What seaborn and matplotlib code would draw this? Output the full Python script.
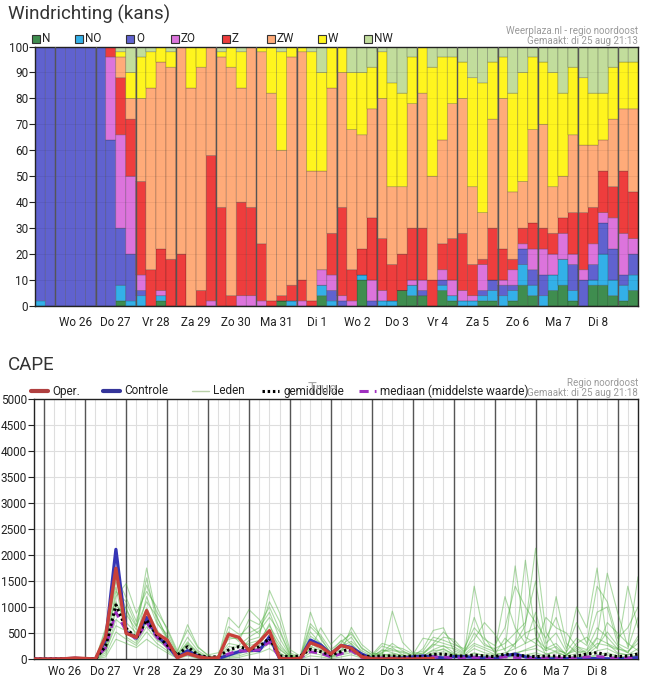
import numpy as np
import pandas as pd
import matplotlib
matplotlib.use("Agg")
import matplotlib.pyplot as plt
from matplotlib.lines import Line2D
from matplotlib.patches import Rectangle
import seaborn as sns

sns.set_style("white")
plt.rcParams['font.family'] = ['Roboto', 'DejaVu Sans']

W_PX, H_PX = 651, 681

# ---- Windrichting (kans), 60 stappen van 6 uur ----
richtingen = ['N', 'NO', 'O', 'ZO', 'Z', 'ZW', 'W', 'NW']
kleuren = ['#3f8d4f', '#33b0e8', '#6062cf', '#dc74dc', '#ee3d3d', '#ffab79', '#fff51e', '#c2dd9c']

N = [0,0,0,0,0,0,0,0,2,0, 0,0,2,0,0,0,0,0,0,0, 0,0,0,0,2,0,0,0,4,0,
     0,0,10,0,0,0,6,4,4,0, 6,2,0,0,2,2,0,2,8,4, 0,6,8,2,0,8,8,4,2,6]
NO = [2,0,0,0,0,0,0,0,6,2, 4,0,2,0,0,0,0,0,0,0, 0,0,0,0,0,2,0,0,4,2,
      0,0,2,0,2,2,0,4,0,0, 2,2,2,2,2,4,4,4,8,4, 4,6,10,4,0,2,12,6,6,6]
O = [98,100,100,100,100,100,100,64,22,18, 2,0,0,0,0,0,0,0,0,0, 0,0,0,0,0,0,0,0,0,4,
     2,0,0,2,0,0,0,0,2,0, 2,0,0,0,2,4,4,2,6,6, 8,0,0,10,10,6,12,12,4,8]
ZO = [0,0,0,0,0,0,0,32,36,30, 6,0,2,0,0,0,0,2,0,0, 4,4,2,0,0,0,2,0,6,6,
      2,2,0,8,4,0,0,2,4,0, 4,6,4,2,10,0,2,6,2,8, 10,8,10,4,4,8,4,12,16,6]
Z = [0,0,0,0,0,0,0,4,22,22, 36,14,16,18,20,0,6,56,38,4, 36,34,22,2,2,6,8,2,0,16,
     34,12,10,24,20,14,14,20,20,10, 10,16,22,12,2,20,12,4,6,10, 8,8,6,16,22,14,16,12,24,18]
ZW = [0,0,0,0,0,0,0,0,8,8, 32,70,72,74,80,84,86,42,58,88, 44,62,74,80,56,88,88,50,38,56,
      52,54,44,42,54,30,26,48,52,40, 40,52,52,30,18,42,58,26,18,36, 40,18,16,30,26,24,12,26,24,32]
W = [0,0,0,0,0,0,0,0,2,10, 16,14,6,6,0,16,8,0,2,8, 14,0,2,18,38,4,2,46,38,16,
     10,22,24,16,18,40,36,18,18,42, 32,18,14,42,50,22,16,38,42,28, 24,44,32,26,26,20,18,20,18,18]
NW = [0,0,0,0,0,0,0,0,2,10, 4,2,0,2,0,0,0,0,2,0, 2,0,0,0,2,0,0,2,10,0,
      0,10,10,8,2,14,18,4,0,8, 4,4,6,12,14,6,4,18,10,4, 6,10,18,8,12,18,18,8,6,6]

dagen = ["Wo 26", "Do 27", "Vr 28", "Za 29", "Zo 30", "Ma 31", "Di 1",
         "Wo 2", "Do 3", "Vr 4", "Za 5", "Zo 6", "Ma 7", "Di 8"]

# ---- CAPE, 60 stappen van 6 uur ----
oper = [0,0,0,5,20,10,0,430,1745,494, 417,930,494,365,25,110,45,13,25,475,
        417,160,333,545,10,0,10,314,237,96, 260,205,45,5,0,5,0,0,5,10] + [np.nan] * 20
controle = [0,0,0,5,15,5,0,365,2109,525, 400,800,440,270,25,160,60,10,10,75,
            140,170,160,430,5,0,5,365,270,96, 260,225,96,10,5,10,20,40,58,40,
            20,45,45,30,20,10,60,96,40,10, 5,5,10,5,5,10,5,5,10,30]
gemiddelde = [0,0,0,3,10,5,0,250,1040,590, 400,750,460,270,75,237,77,32,45,173,
              237,186,237,400,58,45,58,186,141,77, 141,205,58,45,58,58,45,58,45,90,
              96,58,58,77,58,45,96,77,58,45, 58,58,45,58,96,122,77,45,58,96]
mediaan = [0,0,0,0,5,0,0,220,900,540, 380,700,420,240,40,100,40,10,20,100,
           160,150,180,330,20,10,20,140,110,40, 100,160,30,15,25,20,15,20,15,40,
           40,20,20,30,20,15,40,30,20,15, 20,20,15,20,40,50,30,15,20,40]
leden = [
    [0,0,0,0,0,0,0,420,1500,950, 620,1750,800,420,60,330,120,20,30,420, 380,260,300,680,120,10,40,520,300,90,
     180,300,90,40,120,220,80,30,60,180, 260,120,60,1400,420,120,80,300,650,2130, 520,200,90,160,80,240,520,260,120,380],
    [0,0,0,0,0,0,0,260,1200,1450, 880,1300,1000,560,120,660,240,60,40,800, 600,950,760,420,200,30,20,300,180,60,
     120,610,280,120,60,920,320,120,100,250, 420,380,160,380,700,480,160,1790,420,300, 160,1200,300,120,160,420,1650,900,240,1580],
    [0,0,0,0,0,0,0,120,760,600, 430,820,460,300,40,240,60,10,20,180, 140,360,420,1320,880,180,60,180,600,280,
     480,280,60,30,180,120,60,40,200,550, 600,160,80,260,180,90,400,220,1900,450, 80,160,120,1000,600,1750,300,120,80,120],
    [0,0,0,0,30,20,0,540,1380,420, 300,620,360,240,20,120,30,0,10,60, 90,180,260,560,240,60,20,900,380,120,
     360,180,40,20,60,80,30,20,40,120, 200,80,40,120,60,40,60,100,180,260, 800,600,500,240,120,300,260,180,1400,600],
    [0,0,0,0,0,0,0,180,1020,860, 560,1560,720,380,80,420,160,40,60,620, 480,500,600,900,400,60,10,360,220,60,
     260,420,120,60,250,180,140,80,400,360, 300,240,120,800,300,160,1200,600,300,900, 220,140,60,300,420,200,700,500,300,160],
    [0,0,0,0,0,0,0,80,520,380, 260,520,300,160,20,80,20,0,0,40, 60,120,160,300,100,20,0,120,80,30,
     80,120,40,20,40,60,40,20,30,80, 100,60,30,60,40,30,40,60,80,120, 60,40,30,60,40,80,120,60,40,80],
    [0,0,0,0,0,0,0,320,1600,1180, 720,1420,900,600,160,560,220,80,120,380, 420,640,480,1100,720,120,40,680,460,180,
     340,480,220,80,300,240,200,100,150,420, 360,280,200,600,380,260,600,1400,1000,700, 400,800,200,700,300,1400,1100,400,600,1000],
    [0,0,0,0,0,0,0,40,380,300, 220,380,240,120,10,60,10,0,0,20, 30,80,120,200,60,10,0,60,40,10,
     40,80,20,10,20,40,20,10,20,40, 60,30,20,40,30,20,20,40,60,80, 40,30,20,40,30,60,80,40,30,60],
    [0,0,0,0,0,0,0,600,1100,700, 500,980,560,320,40,180,80,20,20,240, 220,300,360,640,300,40,20,240,160,40,
     160,220,80,40,80,100,80,40,60,160, 180,100,60,200,120,80,120,200,300,400, 200,300,80,200,100,400,300,200,150,300],
    [0,0,0,0,0,0,0,220,900,1000, 400,1200,680,480,100,300,120,30,40,300, 260,420,540,800,520,80,30,440,300,120,
     240,340,160,60,160,160,120,60,120,280, 240,200,100,500,260,200,300,500,700,1500, 300,500,140,400,260,900,1000,300,200,800],
    [0,0,0,0,0,0,0,300,1300,1100, 640,1100,820,400,60,280,90,10,30,520, 340,760,660,1000,560,90,20,620,420,100,
     300,520,200,90,120,300,160,60,90,300, 520,320,140,300,220,140,200,300,500,600, 160,240,80,240,180,600,420,200,120,440],
    [0,0,0,0,0,0,0,160,640,540, 340,700,400,200,30,150,40,10,10,100, 120,220,200,420,180,30,10,200,120,40,
     100,160,60,30,100,60,50,30,40,100, 140,80,40,100,80,60,80,120,160,200, 100,120,60,100,60,160,200,100,80,200],
]

def fx(x):
    return x / W_PX

def fy(y):
    return 1 - y / H_PX

fig = plt.figure(figsize=(W_PX / 100, H_PX / 100), dpi=100)
fig.patch.set_facecolor('white')

# ================= Windrichting =================
ax1 = fig.add_axes([fx(35.3), fy(306), fx(638.3) - fx(35.3), fy(46.5) - fy(306)])

waarden = dict(zip(richtingen, [N, NO, O, ZO, Z, ZW, W, NW]))
wind = pd.DataFrame([{'t': t, 'richting': r, 'kans': waarden[r][t]}
                     for r in richtingen for t in range(len(N))])

# seaborn stapelt de laatste hue onderaan, dus de volgorde omdraaien
sns.histplot(data=wind, x='t', hue='richting', weights='kans', multiple='stack',
             discrete=True, shrink=1, hue_order=richtingen[::-1],
             palette=dict(zip(richtingen, kleuren)), alpha=1,
             edgecolor=(0, 0, 0, 0.22), linewidth=0.6, snap=False,
             legend=False, ax=ax1)

for v in range(10, 100, 10):
    ax1.axhline(v, color='black', alpha=0.07, lw=0.6, zorder=3)
for m in range(15):
    ax1.axvline(1.5 + 4 * m, color='#555555', lw=1.0, zorder=4)

ax1.set_xlim(-0.5, 59.5)
ax1.set_ylim(0, 100)
ax1.set_yticks(range(0, 101, 10))
ax1.set_xticks([3.5 + 4 * m for m in range(14)])
ax1.set_xticklabels(dagen)
ax1.set_xticks([1.5 + 4 * m for m in range(15)], minor=True)
ax1.tick_params(axis='x', which='major', length=0, pad=7, labelsize=8.5, colors='#222222')
ax1.tick_params(axis='x', which='minor', length=5, width=0.8, color='#555555', direction='out')
ax1.tick_params(axis='y', length=4, width=0.8, pad=1, labelsize=8.5, colors='#222222', direction='out', left=True)
ax1.set_xlabel('')
ax1.set_ylabel('')
for s in ax1.spines.values():
    s.set_color('#222222')
    s.set_linewidth(1.0)

fig.text(fx(8), fy(14), 'Windrichting (kans)', fontsize=13.5, color='#333333', va='center', ha='left')
fig.text(fx(638), fy(31), 'Weerplaza.nl - regio noordoost', fontsize=7, color='#9a9a9a', ha='right', va='center')
fig.text(fx(638), fy(41), 'Gemaakt: di 25 aug 21:13', fontsize=7, color='#9a9a9a', ha='right', va='center')

leg_x = [32, 75, 126, 171, 222, 267, 318, 364]
for x, lab, kl in zip(leg_x, richtingen, kleuren):
    fig.patches.append(Rectangle((fx(x), fy(43)), 8 / W_PX, 8 / H_PX, transform=fig.transFigure,
                                 facecolor=kl, edgecolor='#333333', lw=0.8))
    fig.text(fx(x + 10), fy(39), lab, fontsize=8.5, color='#222222', ha='left', va='center')

# ================= CAPE =================
ax2 = fig.add_axes([fx(34), fy(659), fx(638) - fx(34), fy(399) - fy(659)])
tijd = np.arange(len(controle))

for j in tijd:
    ax2.axvline(j, color='#dedede', lw=0.8, zorder=0)
for v in range(500, 5000, 500):
    ax2.axhline(v, color='#dedede', lw=0.8, zorder=0)
for m in range(15):
    ax2.axvline(1 + 4 * m, color='#555555', lw=1.0, zorder=1)

ens = pd.DataFrame([{'t': t, 'cape': v, 'lid': i}
                    for i, rij in enumerate(leden) for t, v in enumerate(rij)])
sns.lineplot(data=ens, x='t', y='cape', units='lid', estimator=None,
             color='#4cae3c', lw=0.8, alpha=0.45, ax=ax2, zorder=2)
sns.lineplot(x=tijd, y=controle, color='#3535b5', lw=2.3, ax=ax2, zorder=3)
sns.lineplot(x=tijd, y=mediaan, color='#a030c0', lw=2.0, ax=ax2, zorder=4).lines[-1].set_dashes((3, 2))
sns.lineplot(x=tijd, y=gemiddelde, color='black', lw=2.2, ax=ax2, zorder=5).lines[-1].set_dashes((0.8, 0.9))
sns.lineplot(x=tijd, y=oper, color='#c8403a', lw=2.4, ax=ax2, zorder=6)

ax2.set_xlim(0, 59)
ax2.set_ylim(0, 5000)
ax2.set_yticks(range(0, 5001, 500))
ax2.set_xticks([3 + 4 * m for m in range(14)])
ax2.set_xticklabels(dagen)
ax2.set_xticks([1 + 4 * m for m in range(15)], minor=True)
ax2.tick_params(axis='x', which='major', length=0, pad=4, labelsize=8.5, colors='#222222')
ax2.tick_params(axis='x', which='minor', length=5, width=0.8, color='#555555', direction='out')
ax2.tick_params(axis='y', length=4, width=0.8, pad=1, labelsize=8.5, colors='#222222', direction='out', left=True)
ax2.set_xlabel('')
ax2.set_ylabel('')
for s in ax2.spines.values():
    s.set_color('#222222')
    s.set_linewidth(1.0)

fig.text(fx(8), fy(365), 'CAPE', fontsize=13.5, color='#333333', va='center', ha='left')
fig.text(fx(638), fy(383), 'Regio noordoost', fontsize=7, color='#9a9a9a', ha='right', va='center')
fig.text(fx(638), fy(393), 'Gemaakt: di 25 aug 21:18', fontsize=7, color='#9a9a9a', ha='right', va='center')

legenda = [
    (31, 'Oper.', dict(color='#b04040', lw=3)),
    (103, 'Controle', dict(color='#35359a', lw=3)),
    (192, 'Leden', dict(color='#b8d0a8', lw=1)),
    (262, 'gemiddelde', dict(color='black', lw=2.2, dashes=(0.8, 0.9))),
    (359, 'mediaan (middelste waarde)', dict(color='#a030c0', lw=2.2, dashes=(3, 2))),
]
for x, lab, stijl in legenda:
    fig.add_artist(Line2D([fx(x), fx(x + 17)], [fy(391), fy(391)], transform=fig.transFigure, **stijl))
    fig.text(fx(x + 21), fy(391), lab, fontsize=8.5, color='#222222', ha='left', va='center')
fig.text(fx(322), fy(389), 'True', fontsize=10.5, color='#a8a8a8', ha='center', va='center')

fig.savefig('out.png', dpi=100)
